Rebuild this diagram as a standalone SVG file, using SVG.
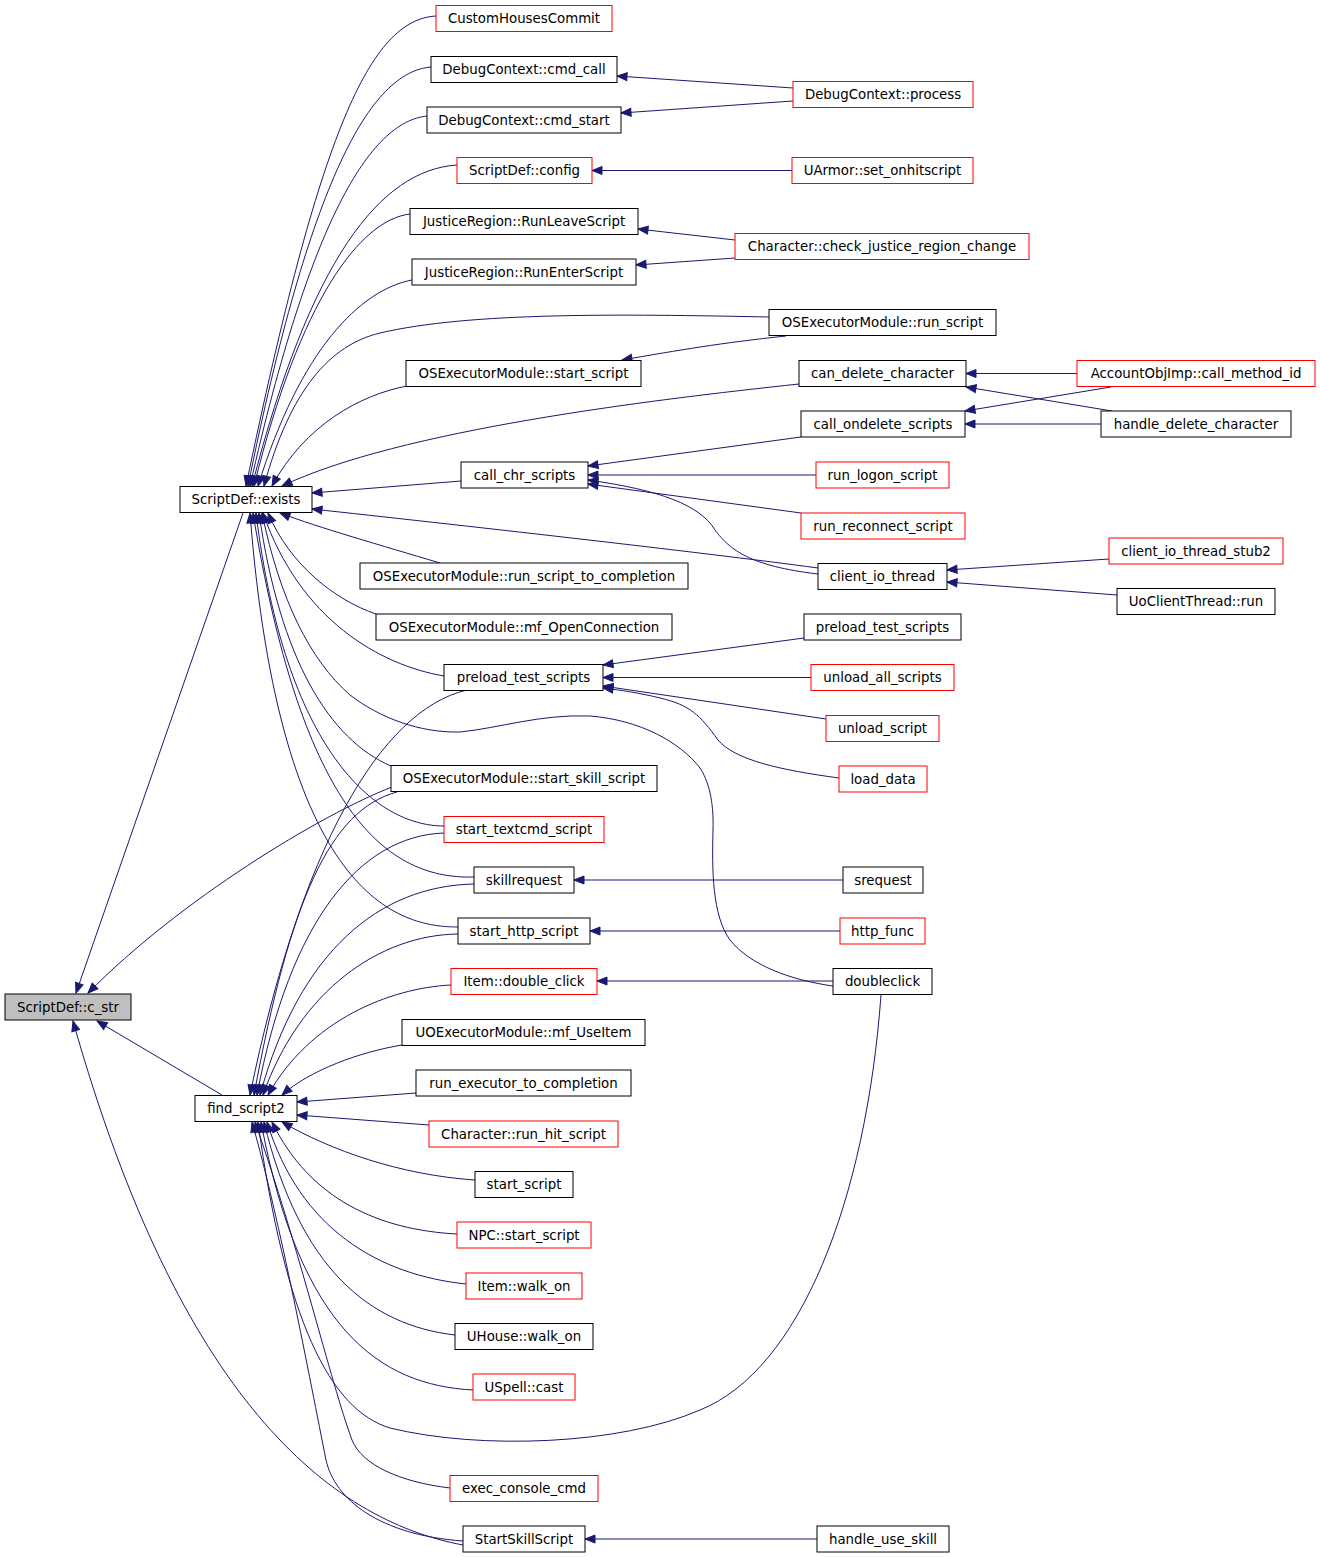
<svg xmlns="http://www.w3.org/2000/svg" width="1320" height="1557" viewBox="0 0 1320 1557">
<style>
.n rect{fill:#ffffff;stroke:#000000;stroke-width:1}
.n.r rect{stroke:#ff0000}
.n.g rect{fill:#bfbfbf}
.n text{font-family:"DejaVu Sans","Liberation Sans",sans-serif;font-size:13.33px;fill:#000000;text-anchor:middle}
#edges path{fill:none;stroke:#191970;stroke-width:1;marker-end:url(#ah)}
</style>
<defs>
<marker id="ah" markerUnits="userSpaceOnUse" markerWidth="12" markerHeight="10" refX="10" refY="4" orient="auto" overflow="visible">
<path d="M0,0 L10,4 L0,8 z" fill="#191970" stroke="#191970" stroke-width="1"/>
</marker>
</defs>
<rect width="1320" height="1557" fill="#ffffff"/>
<g id="edges">
<path d="M243,513 L76,993"/>
<path d="M392,787 C320,815 180,900 88,993"/>
<path d="M222,1095 L97,1021"/>
<path d="M463,1545 C330,1520 180,1400 73,1021"/>
<path d="M436,16 C370,20 320,130 246,486"/>
<path d="M431,67 C370,72 310,180 248,486"/>
<path d="M427,116 C370,122 310,220 250,486"/>
<path d="M457,165 C380,170 310,260 252,486"/>
<path d="M410,214 C360,220 300,300 254,486"/>
<path d="M412,280 C360,290 300,350 258,486"/>
<path d="M769,317 C620,314 470,312 380,333 C330,345 290,390 264,486"/>
<path d="M407,386 C360,395 305,425 272,486"/>
<path d="M799,384 C650,400 400,430 282,486"/>
<path d="M461,481 L312,493"/>
<path d="M818,568 C700,552 450,524 312,509"/>
<path d="M440,563 C380,545 320,528 280,513"/>
<path d="M376,614 C335,600 290,565 268,513"/>
<path d="M444,676 C380,665 300,620 263,513"/>
<path d="M391,766 C330,740 280,660 259,513"/>
<path d="M444,826 C375,826 285,750 256,513"/>
<path d="M474,877 C380,880 300,800 253,513"/>
<path d="M458,927 C400,927 280,900 250,513"/>
<path d="M833,986 C790,980 750,965 730,940 C712,915 712,870 713,830 C714,800 708,780 700,768 C680,742 640,720 590,716 C540,714 500,728 460,732 C420,733 380,718 350,695 C310,660 280,600 262,513"/>
<path d="M467,690 C380,710 300,850 250,1095"/>
<path d="M397,792 C330,810 290,900 254,1095"/>
<path d="M444,833 C360,836 290,920 257,1095"/>
<path d="M474,884 C380,886 300,950 260,1095"/>
<path d="M458,934 C380,935 300,990 263,1095"/>
<path d="M451,985 C390,988 310,1020 268,1095"/>
<path d="M402,1045 C360,1052 310,1070 282,1095"/>
<path d="M416,1093 L297,1102"/>
<path d="M429,1125 L297,1115"/>
<path d="M475,1180 C400,1175 330,1150 282,1122"/>
<path d="M457,1234 C380,1230 310,1200 272,1122"/>
<path d="M466,1284 C380,1275 300,1230 267,1122"/>
<path d="M455,1335 C370,1325 300,1270 264,1122"/>
<path d="M473,1390 C380,1385 300,1330 261,1122"/>
<path d="M881,995 C866,1200 800,1370 700,1410 C620,1445 480,1450 390,1428 C330,1410 285,1320 258,1122"/>
<path d="M450,1488 C400,1482 362,1465 352,1440 C330,1380 300,1250 255,1122"/>
<path d="M463,1541 C380,1535 335,1500 326,1460 C310,1380 280,1220 252,1122"/>
<path d="M793,88 L617,76"/>
<path d="M793,101 L621,113"/>
<path d="M792,170.5 L592,170.5"/>
<path d="M735,240 L638,229"/>
<path d="M735,258 L636,265"/>
<path d="M786,336 C720,343 680,350 622,360"/>
<path d="M1077,373.5 L966,373.5"/>
<path d="M1112,411 L966,387"/>
<path d="M1111,387 L965,411"/>
<path d="M1101,424 L965,424"/>
<path d="M801,437 L588,466"/>
<path d="M816,475 L588,475"/>
<path d="M801,513 L588,484"/>
<path d="M818,574 C750,566 730,550 715,530 C700,505 660,490 588,480"/>
<path d="M1109,559 L947,570"/>
<path d="M1117,595 L947,582"/>
<path d="M804,638 L603,665"/>
<path d="M811,677.5 L603,677.5"/>
<path d="M826,719 L603,686"/>
<path d="M839,778 C780,770 735,760 718,740 C700,715 690,705 660,698 C640,693 620,690 603,688"/>
<path d="M843,880 L574,880"/>
<path d="M840,931 L590,931"/>
<path d="M833,981 L597,981"/>
<path d="M817,1539 L585,1539"/>
</g>
<g id="n_c_str" class="n g"><rect x="5" y="994" width="126" height="26"/><text x="68" y="1011.5">ScriptDef::c_str</text></g>
<g id="n_exists" class="n"><rect x="180" y="486.5" width="132" height="26"/><text x="246" y="504">ScriptDef::exists</text></g>
<g id="n_find_script2" class="n"><rect x="195" y="1095.5" width="102" height="26"/><text x="246" y="1113">find_script2</text></g>
<g id="n_CustomHousesCommit" class="n r"><rect x="436" y="5.5" width="176" height="26"/><text x="524" y="23">CustomHousesCommit</text></g>
<g id="n_cmd_call" class="n"><rect x="431" y="56.5" width="186" height="26"/><text x="524" y="74">DebugContext::cmd_call</text></g>
<g id="n_cmd_start" class="n"><rect x="427" y="107" width="194" height="26"/><text x="524" y="124.5">DebugContext::cmd_start</text></g>
<g id="n_config" class="n r"><rect x="457" y="157.5" width="135" height="26"/><text x="524.5" y="175">ScriptDef::config</text></g>
<g id="n_RunLeaveScript" class="n"><rect x="410" y="208.5" width="228" height="26"/><text x="524" y="226">JusticeRegion::RunLeaveScript</text></g>
<g id="n_RunEnterScript" class="n"><rect x="412" y="259" width="224" height="26"/><text x="524" y="276.5">JusticeRegion::RunEnterScript</text></g>
<g id="n_ose_start_script" class="n"><rect x="406" y="360.5" width="235" height="26"/><text x="523.5" y="378">OSExecutorModule::start_script</text></g>
<g id="n_call_chr_scripts" class="n"><rect x="461" y="462" width="127" height="26"/><text x="524.5" y="479.5">call_chr_scripts</text></g>
<g id="n_run_script_to_completion" class="n"><rect x="360" y="563" width="328" height="26"/><text x="524" y="580.5">OSExecutorModule::run_script_to_completion</text></g>
<g id="n_mf_OpenConnection" class="n"><rect x="376" y="614" width="296" height="26"/><text x="524" y="631.5">OSExecutorModule::mf_OpenConnection</text></g>
<g id="n_preload_mid" class="n"><rect x="444" y="664.5" width="159" height="26"/><text x="523.5" y="682">preload_test_scripts</text></g>
<g id="n_start_skill_script" class="n"><rect x="391" y="765.5" width="266" height="26"/><text x="524" y="783">OSExecutorModule::start_skill_script</text></g>
<g id="n_start_textcmd_script" class="n r"><rect x="444" y="816.5" width="160" height="26"/><text x="524" y="834">start_textcmd_script</text></g>
<g id="n_skillrequest" class="n"><rect x="474" y="867" width="100" height="26"/><text x="524" y="884.5">skillrequest</text></g>
<g id="n_start_http_script" class="n"><rect x="458" y="918" width="132" height="26"/><text x="524" y="935.5">start_http_script</text></g>
<g id="n_double_click" class="n r"><rect x="451" y="968.5" width="146" height="26"/><text x="524" y="986">Item::double_click</text></g>
<g id="n_mf_UseItem" class="n"><rect x="402" y="1019.5" width="243" height="26"/><text x="523.5" y="1037">UOExecutorModule::mf_UseItem</text></g>
<g id="n_run_executor_to_completion" class="n"><rect x="416" y="1070" width="215" height="26"/><text x="523.5" y="1087.5">run_executor_to_completion</text></g>
<g id="n_run_hit_script" class="n r"><rect x="429" y="1121" width="189" height="26"/><text x="523.5" y="1138.5">Character::run_hit_script</text></g>
<g id="n_start_script" class="n"><rect x="475" y="1171.5" width="98" height="26"/><text x="524" y="1189">start_script</text></g>
<g id="n_npc_start_script" class="n r"><rect x="457" y="1222" width="134" height="26"/><text x="524" y="1239.5">NPC::start_script</text></g>
<g id="n_item_walk_on" class="n r"><rect x="466" y="1273" width="116" height="26"/><text x="524" y="1290.5">Item::walk_on</text></g>
<g id="n_uhouse_walk_on" class="n"><rect x="455" y="1323.5" width="138" height="26"/><text x="524" y="1341">UHouse::walk_on</text></g>
<g id="n_uspell_cast" class="n r"><rect x="473" y="1374" width="102" height="26"/><text x="524" y="1391.5">USpell::cast</text></g>
<g id="n_exec_console_cmd" class="n r"><rect x="450" y="1475.5" width="148" height="26"/><text x="524" y="1493">exec_console_cmd</text></g>
<g id="n_StartSkillScript" class="n"><rect x="463" y="1526" width="122" height="26"/><text x="524" y="1543.5">StartSkillScript</text></g>
<g id="n_process" class="n r"><rect x="793" y="81.5" width="180" height="26"/><text x="883" y="99">DebugContext::process</text></g>
<g id="n_set_onhitscript" class="n r"><rect x="792" y="157.5" width="181" height="26"/><text x="882.5" y="175">UArmor::set_onhitscript</text></g>
<g id="n_check_justice_region_change" class="n r"><rect x="735" y="233.5" width="294" height="26"/><text x="882" y="251">Character::check_justice_region_change</text></g>
<g id="n_ose_run_script" class="n"><rect x="769" y="309.5" width="227" height="26"/><text x="882.5" y="327">OSExecutorModule::run_script</text></g>
<g id="n_can_delete_character" class="n"><rect x="799" y="360.5" width="167" height="26"/><text x="882.5" y="378">can_delete_character</text></g>
<g id="n_call_ondelete_scripts" class="n"><rect x="801" y="411" width="164" height="26"/><text x="883" y="428.5">call_ondelete_scripts</text></g>
<g id="n_run_logon_script" class="n r"><rect x="816" y="462" width="133" height="26"/><text x="882.5" y="479.5">run_logon_script</text></g>
<g id="n_run_reconnect_script" class="n r"><rect x="801" y="513" width="164" height="26"/><text x="883" y="530.5">run_reconnect_script</text></g>
<g id="n_client_io_thread" class="n"><rect x="818" y="563.5" width="129" height="26"/><text x="882.5" y="581">client_io_thread</text></g>
<g id="n_preload_right" class="n"><rect x="804" y="614" width="157" height="26"/><text x="882.5" y="631.5">preload_test_scripts</text></g>
<g id="n_unload_all_scripts" class="n r"><rect x="811" y="664.5" width="143" height="26"/><text x="882.5" y="682">unload_all_scripts</text></g>
<g id="n_unload_script" class="n r"><rect x="826" y="715.5" width="113" height="26"/><text x="882.5" y="733">unload_script</text></g>
<g id="n_load_data" class="n r"><rect x="839" y="766" width="88" height="26"/><text x="883" y="783.5">load_data</text></g>
<g id="n_srequest" class="n"><rect x="843" y="867" width="80" height="26"/><text x="883" y="884.5">srequest</text></g>
<g id="n_http_func" class="n r"><rect x="840" y="918" width="85" height="26"/><text x="882.5" y="935.5">http_func</text></g>
<g id="n_doubleclick" class="n"><rect x="833" y="968.5" width="99" height="26"/><text x="882.5" y="986">doubleclick</text></g>
<g id="n_handle_use_skill" class="n"><rect x="817" y="1526" width="132" height="26"/><text x="883" y="1543.5">handle_use_skill</text></g>
<g id="n_call_method_id" class="n r"><rect x="1077" y="360.5" width="238" height="26"/><text x="1196" y="378">AccountObjImp::call_method_id</text></g>
<g id="n_handle_delete_character" class="n"><rect x="1101" y="411" width="190" height="26"/><text x="1196" y="428.5">handle_delete_character</text></g>
<g id="n_client_io_thread_stub2" class="n r"><rect x="1109" y="538" width="174" height="26"/><text x="1196" y="555.5">client_io_thread_stub2</text></g>
<g id="n_UoClientThread_run" class="n"><rect x="1117" y="588.5" width="158" height="26"/><text x="1196" y="606">UoClientThread::run</text></g>
</svg>
